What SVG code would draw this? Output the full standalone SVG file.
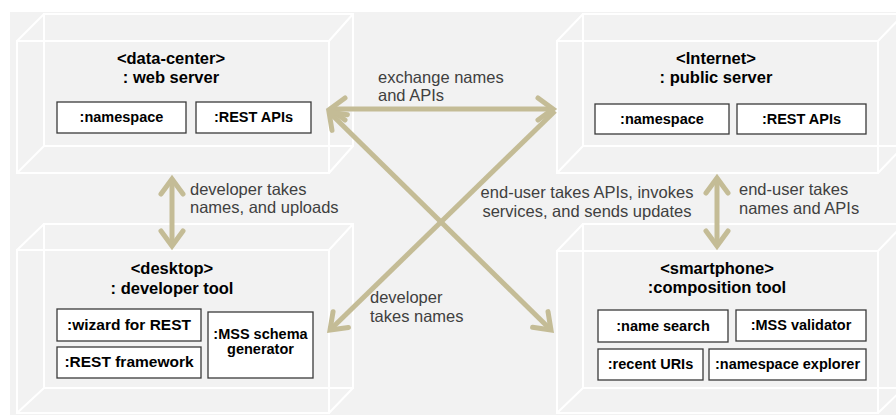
<svg xmlns="http://www.w3.org/2000/svg" width="896" height="415" viewBox="0 0 896 415">
<style>
.cube{fill:none;stroke:#ffffff;stroke-width:2}
.box{fill:#ffffff;stroke:#3a3a3a;stroke-width:1.3}
.title{font-family:"Liberation Sans",Arial,sans-serif;font-size:16.5px;font-weight:bold;fill:#000;text-anchor:middle}
.bt{font-family:"Liberation Sans",Arial,sans-serif;font-size:14.5px;font-weight:bold;fill:#000;text-anchor:middle}
.big{font-size:15.5px}
.lbl{font-family:"Liberation Sans",Arial,sans-serif;font-size:16.5px;fill:#404040}
.arr{fill:none;stroke:#c4bc96;stroke-width:5;marker-start:url(#ah);marker-end:url(#ah)}
</style>
<defs>
<marker id="ah" markerUnits="userSpaceOnUse" viewBox="-22 -15 30 30" markerWidth="30" markerHeight="30" refX="0" refY="0" orient="auto-start-reverse" overflow="visible">
<path d="M-15,-11 L0,0 L-15,11" fill="none" stroke="#c4bc96" stroke-width="5" stroke-linecap="round" stroke-linejoin="miter"/>
</marker>
</defs>
<rect x="10" y="12" width="886" height="403" fill="#f2f2f2"/>

<g id="web-server">
<path class="cube" d="M17,41H329V173H17Z M44,14H353V146H44Z M17,41L44,14 M329,41L353,14 M329,173L353,146 M17,173L44,146"/>
<text class="title" x="171" y="64">&lt;data-center&gt;</text>
<text class="title" x="171" y="83">: web server</text>
<rect class="box" x="57" y="102" width="129" height="31"/>
<text class="bt" x="121.5" y="122">:namespace</text>
<rect class="box" x="196" y="102" width="115" height="31"/>
<text class="bt" x="253.5" y="122">:REST APIs</text>
</g>

<g id="public-server">
<path class="cube" d="M557,41H878V173H557Z M583,14H904V146H583Z M557,41L583,14 M878,41L904,14 M878,173L904,146 M557,173L583,146"/>
<text class="title" x="716" y="64">&lt;Internet&gt;</text>
<text class="title" x="716" y="83">: public server</text>
<rect class="box" x="595" y="104" width="134" height="30"/>
<text class="bt" x="662" y="124">:namespace</text>
<rect class="box" x="737" y="104" width="129" height="30"/>
<text class="bt" x="801.5" y="124">:REST APIs</text>
</g>

<g id="developer-tool">
<path class="cube" d="M17,250H329V413H17Z M44,224H353V388H44Z M17,250L44,224 M329,250L353,224 M329,413L353,388 M17,413L44,388"/>
<text class="title" x="172" y="274">&lt;desktop&gt;</text>
<text class="title" x="172" y="294">: developer tool</text>
<rect class="box" x="57" y="309" width="144" height="32"/>
<text class="bt big" x="129" y="330">:wizard for REST</text>
<rect class="box" x="57" y="347" width="144" height="31"/>
<text class="bt big" x="129" y="367">:REST framework</text>
<rect class="box" x="208" y="312" width="105" height="66"/>
<text class="bt" x="260.5" y="339">:MSS schema</text>
<text class="bt" x="260.5" y="354">generator</text>
</g>

<g id="composition-tool">
<path class="cube" d="M557,251H878V413H557Z M583,224H904V388H583Z M557,251L583,224 M878,251L904,224 M878,413L904,388 M557,413L583,388"/>
<text class="title" x="717" y="274">&lt;smartphone&gt;</text>
<text class="title" x="717" y="293">:composition tool</text>
<rect class="box" x="598" y="310" width="130" height="32"/>
<text class="bt" x="663" y="331">:name search</text>
<rect class="box" x="736" y="310" width="130" height="31"/>
<text class="bt" x="801" y="330">:MSS validator</text>
<rect class="box" x="598" y="349" width="105" height="31"/>
<text class="bt" x="650.5" y="369">:recent URIs</text>
<rect class="box" x="709" y="349" width="157" height="31"/>
<text class="bt" x="787.5" y="369">:namespace explorer</text>
</g>

<g id="connectors">
<line class="arr" x1="330" y1="109" x2="553" y2="109"/>
<line class="arr" x1="329" y1="112" x2="551" y2="330"/>
<line class="arr" style="marker-start:none" x1="555" y1="111" x2="330" y2="330"/>
<line class="arr" x1="172" y1="179" x2="172" y2="246"/>
<line class="arr" x1="717" y1="178" x2="717" y2="246"/>
<text class="lbl" x="378" y="83">exchange names</text>
<text class="lbl" x="378" y="101">and APIs</text>
<text class="lbl" x="190" y="195">developer takes</text>
<text class="lbl" x="190" y="213">names, and uploads</text>
<text class="lbl" x="587" y="198" text-anchor="middle">end-user takes APIs, invokes</text>
<text class="lbl" x="587" y="217" text-anchor="middle">services, and sends updates</text>
<text class="lbl" x="739" y="195">end-user takes</text>
<text class="lbl" x="739" y="214">names and APIs</text>
<text class="lbl" x="370" y="303">developer</text>
<text class="lbl" x="370" y="322">takes names</text>
</g>
</svg>
